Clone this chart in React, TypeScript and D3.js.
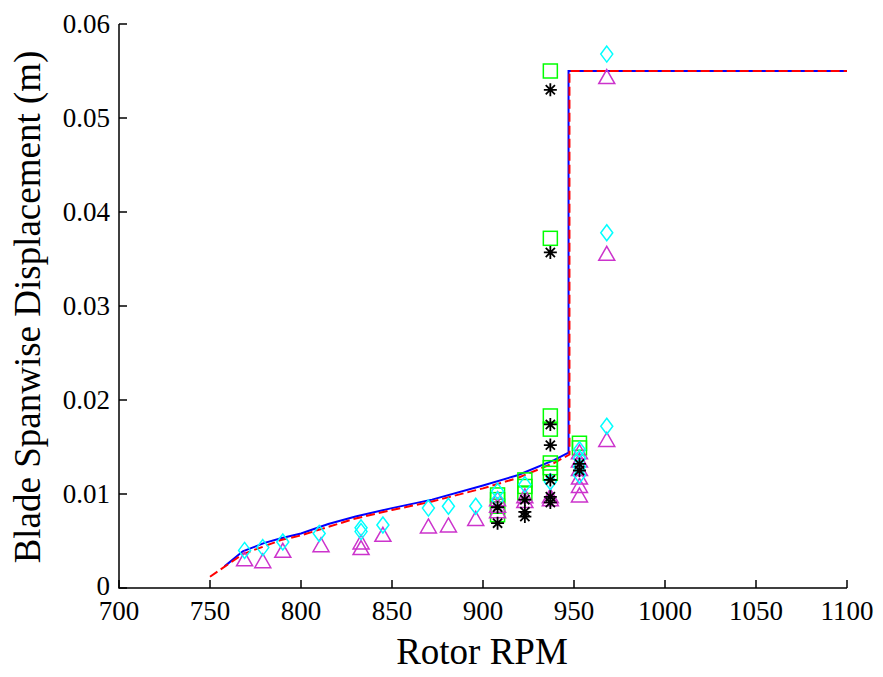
import React, { useEffect, useRef } from "react";
import * as d3 from "d3";

// model curves (rpm, displacement)
const blueRpm = [758, 768, 780, 789, 800, 815, 830, 850, 872, 900, 919, 939, 947, 947, 1100];
const blueVal = [0.0023, 0.0039, 0.0048, 0.0053, 0.0058, 0.0068, 0.0076, 0.0085, 0.0094, 0.0109, 0.012, 0.0136, 0.0144, 0.055, 0.055];
const redRpm = [750, 768, 789, 800, 830, 850, 872, 900, 919, 939, 947.5, 947.5, 1100];
const redVal = [0.0012, 0.0036, 0.0051, 0.0056, 0.0074, 0.0083, 0.0092, 0.0106, 0.0117, 0.0133, 0.0142, 0.055, 0.055];

// measured points
const diamondRpm = [769, 779, 790, 810, 833, 833, 845, 870, 881, 896, 908, 908, 923, 937, 953, 953, 953, 953, 968, 968, 968];
const diamondVal = [0.004, 0.0043, 0.0049, 0.0058, 0.0064, 0.006, 0.0067, 0.0085, 0.0087, 0.0087, 0.0103, 0.0094, 0.011, 0.0113, 0.0147, 0.0138, 0.0129, 0.012, 0.0568, 0.0378, 0.0172];

const triRpm = [769, 779, 790, 811, 833, 833, 845, 870, 881, 896, 908, 908, 908, 923, 923, 937, 937, 953, 953, 953, 953, 953, 953, 968, 968, 968];
const triVal = [0.003, 0.0028, 0.0039, 0.0045, 0.0048, 0.0042, 0.0056, 0.0065, 0.0066, 0.0073, 0.0094, 0.0087, 0.0081, 0.0097, 0.0092, 0.0094, 0.0097, 0.0144, 0.0135, 0.0126, 0.0117, 0.0108, 0.0098, 0.0543, 0.0355, 0.0157];

const squareRpm = [908, 908, 908, 908, 923, 923, 923, 937, 937, 937, 937, 937, 937, 937, 953, 953];
const squareVal = [0.0099, 0.0094, 0.0087, 0.0078, 0.0115, 0.0108, 0.0101, 0.055, 0.0372, 0.0183, 0.0169, 0.0133, 0.0128, 0.0122, 0.0154, 0.0149];

const starRpm = [908, 908, 923, 923, 923, 937, 937, 937, 937, 937, 937, 937, 953, 953];
const starVal = [0.0086, 0.0069, 0.0094, 0.0081, 0.0076, 0.053, 0.0357, 0.0174, 0.0152, 0.0115, 0.0097, 0.0091, 0.0132, 0.0125];

const xTicks = [700, 750, 800, 850, 900, 950, 1000, 1050, 1100];
const yTicks = [0, 0.01, 0.02, 0.03, 0.04, 0.05, 0.06];

const zip = (a: number[], b: number[]) => a.map((v, i) => [v, b[i]] as [number, number]);

export default function App() {
  const ref = useRef<SVGSVGElement>(null);

  useEffect(() => {
    const svg = d3.select(ref.current);
    svg.selectAll("*").remove();

    const x = d3.scaleLinear().domain([700, 1100]).range([119, 847]);
    const y = d3.scaleLinear().domain([0, 0.06]).range([588, 24]);
    const font = "'Liberation Serif', 'Times New Roman', serif";

    const line = d3
      .line<[number, number]>()
      .x((d) => x(d[0]))
      .y((d) => y(d[1]));

    svg.append("path")
      .attr("d", line(zip(blueRpm, blueVal)))
      .attr("fill", "none")
      .attr("stroke", "#0000ff")
      .attr("stroke-width", 2);

    svg.append("path")
      .attr("d", line(zip(redRpm, redVal)))
      .attr("fill", "none")
      .attr("stroke", "#ff0000")
      .attr("stroke-width", 2)
      .attr("stroke-dasharray", "9,4");

    // markers
    const g = svg.append("g").attr("fill", "none").attr("stroke-width", 1.5);

    g.selectAll("rect.sq")
      .data(zip(squareRpm, squareVal))
      .enter()
      .append("rect")
      .attr("x", (d) => x(d[0]) - 7)
      .attr("y", (d) => y(d[1]) - 7)
      .attr("width", 14)
      .attr("height", 14)
      .attr("stroke", "#00ff00");

    g.selectAll("path.tri")
      .data(zip(triRpm, triVal))
      .enter()
      .append("path")
      .attr("d", (d) => {
        const cx = x(d[0]), cy = y(d[1]);
        return `M${cx},${cy - 8}L${cx + 8},${cy + 6}L${cx - 8},${cy + 6}Z`;
      })
      .attr("stroke", "#cc33cc");

    g.selectAll("path.dia")
      .data(zip(diamondRpm, diamondVal))
      .enter()
      .append("path")
      .attr("d", (d) => {
        const cx = x(d[0]), cy = y(d[1]);
        return `M${cx},${cy - 8}L${cx + 6},${cy}L${cx},${cy + 8}L${cx - 6},${cy}Z`;
      })
      .attr("stroke", "#00ffff");

    g.selectAll("path.star")
      .data(zip(starRpm, starVal))
      .enter()
      .append("path")
      .attr("d", (d) => {
        const cx = x(d[0]), cy = y(d[1]);
        const r = 6.5, q = 4.6;
        return `M${cx - r},${cy}L${cx + r},${cy}M${cx},${cy - r}L${cx},${cy + r}` +
          `M${cx - q},${cy - q}L${cx + q},${cy + q}M${cx - q},${cy + q}L${cx + q},${cy - q}`;
      })
      .attr("stroke", "#000000")
      .attr("stroke-width", 1.8);

    // axes
    const ax = svg.append("g").attr("stroke", "#000").attr("stroke-width", 1.5);
    ax.append("path").attr("d", `M${x(700)},${y(0.06)}L${x(700)},${y(0)}L${x(1100)},${y(0)}`).attr("fill", "none");

    xTicks.forEach((t) => {
      ax.append("line").attr("x1", x(t)).attr("x2", x(t)).attr("y1", y(0)).attr("y2", y(0) - 8);
      svg.append("text")
        .attr("x", x(t))
        .attr("y", 620)
        .attr("text-anchor", "middle")
        .attr("font-family", font)
        .attr("font-size", 27)
        .text(t);
    });

    yTicks.forEach((t) => {
      ax.append("line").attr("x1", x(700)).attr("x2", x(700) + 8).attr("y1", y(t)).attr("y2", y(t));
      svg.append("text")
        .attr("x", 110)
        .attr("y", y(t) + (t === 0 ? 7 : 9))
        .attr("text-anchor", "end")
        .attr("font-family", font)
        .attr("font-size", 27)
        .text(t === 0 ? "0" : d3.format(".2f")(t));
    });

    svg.append("text")
      .attr("x", 482)
      .attr("y", 664)
      .attr("text-anchor", "middle")
      .attr("font-family", font)
      .attr("font-size", 37)
      .text("Rotor RPM");

    svg.append("text")
      .attr("transform", "translate(40,307) rotate(-90)")
      .attr("text-anchor", "middle")
      .attr("font-family", font)
      .attr("font-size", 37)
      .text("Blade Spanwise Displacement (m)");
  }, []);

  return (
    <svg
      ref={ref}
      width={883}
      height={677}
      style={{ position: "absolute", left: 0, top: 0, background: "#fff" }}
    />
  );
}
